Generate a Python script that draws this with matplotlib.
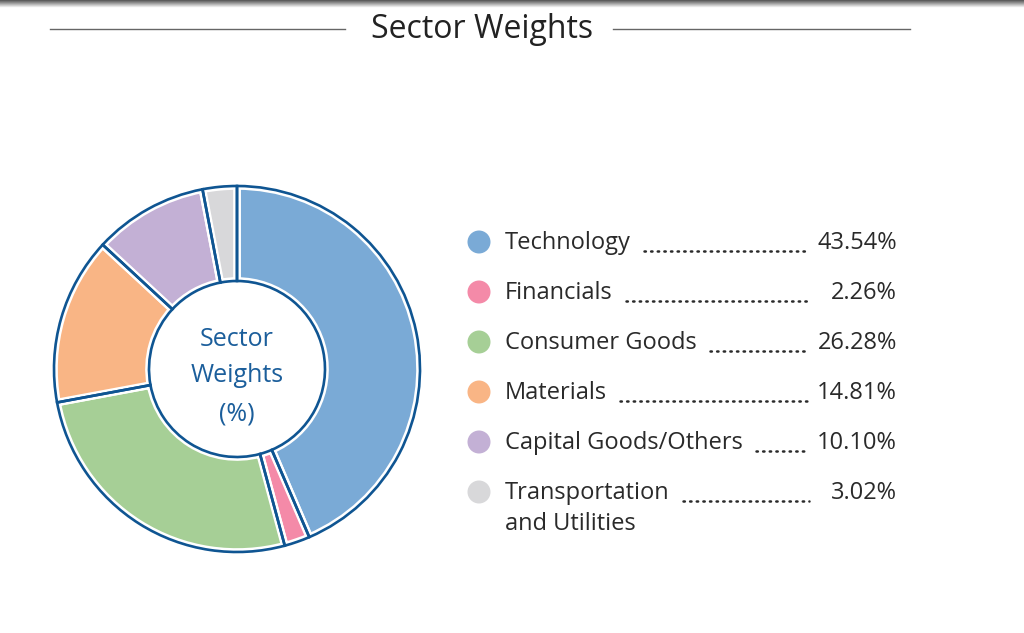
import matplotlib
matplotlib.use("Agg")
import matplotlib.pyplot as plt
import numpy as np
from matplotlib.patches import Circle

# datos del grafico
sectors = ["Technology", "Financials", "Consumer Goods", "Materials",
           "Capital Goods/Others", "Transportation\nand Utilities"]
weights = [43.54, 2.26, 26.28, 14.81, 10.10, 3.02]
labels_pct = ["43.54%", "2.26%", "26.28%", "14.81%", "10.10%", "3.02%"]
colors = ["#7aaad6", "#f48aa8", "#a6cf96", "#f9b585", "#c3b0d5", "#d8d8da"]

title = "Sector Weights"
center_text = ["Sector", "Weights", "(%)"]

W, H = 1024, 633
blue = "#0f5592"
plt.rcParams['font.family'] = ['Open Sans', 'DejaVu Sans']

fig = plt.figure(figsize=(W / 100, H / 100), dpi=100)
ax = fig.add_axes([0, 0, 1, 1])
ax.set_xlim(0, W)
ax.set_ylim(0, H)
ax.axis("off")

def Y(py):
    # convierte coordenada de pixel (desde arriba) a coordenada del eje
    return H - py

# sombra superior
grad = np.linspace(0.35, 1.0, 10).reshape(-1, 1)
sh = fig.add_axes([0, 1 - 8 / H, 1, 8 / H])
sh.imshow(grad, cmap="gray", aspect="auto", vmin=0, vmax=1)
sh.axis("off")

# titulo con lineas
ax.text(482, Y(30), title, ha="center", va="center", fontsize=23, color="#222222")
ax.plot([50, 345], [Y(29), Y(29)], color="#666666", lw=1)
ax.plot([613, 910], [Y(29), Y(29)], color="#666666", lw=1)

# dona
cx, cy, r = 237, Y(369), 183
ring = 95
ax.pie(weights, colors=colors, startangle=90, counterclock=False,
       radius=r, center=(cx, cy),
       wedgeprops=dict(width=ring, edgecolor="white", linewidth=5.5))
ax.pie(weights, colors=["none"] * len(weights), startangle=90, counterclock=False,
       radius=r, center=(cx, cy),
       wedgeprops=dict(width=ring, edgecolor=blue, linewidth=1.9, facecolor="none"))
ax.set_xlim(0, W)
ax.set_ylim(0, H)
ax.set_aspect("equal")

for txt, py in zip(center_text, [339, 375, 414]):
    ax.text(cx, Y(py), txt, ha="center", va="center", fontsize=18, color="#1b5e9b")

# leyenda
fig.canvas.draw()
renderer = fig.canvas.get_renderer()
y0, step = 243, 50
fs = 17
for i, (name, pct, col) in enumerate(zip(sectors, labels_pct, colors)):
    py = y0 + i * step
    ax.add_patch(Circle((479, Y(py - 1)), 11.5, color=col, ec="none"))
    first = name.split("\n")[0]
    t = ax.text(505, Y(py), first, ha="left", va="center", fontsize=fs, color="#2a2a2a")
    if "\n" in name:
        ax.text(505, Y(py + 31), name.split("\n")[1], ha="left", va="center",
                fontsize=fs, color="#2a2a2a")
    ax.text(897, Y(py), pct, ha="right", va="center", fontsize=fs, color="#2a2a2a")
    bb = t.get_window_extent(renderer)
    x_end = bb.x1 + 13
    ax.plot([x_end, 809], [Y(py + 8), Y(py + 8)], color="#2a2a2a", lw=1.8,
            linestyle=(0, (0.55, 2.1)), dash_capstyle="round")

fig.savefig("out.png", dpi=100)
